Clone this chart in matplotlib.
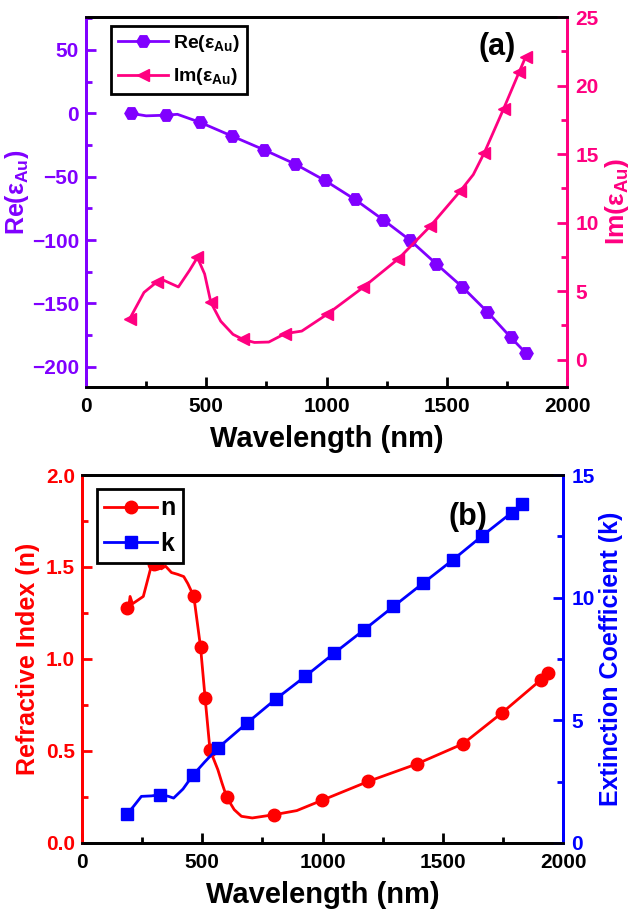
import matplotlib
matplotlib.use('Agg')
import matplotlib.pyplot as plt
from matplotlib.ticker import MultipleLocator

plt.rcParams['font.family'] = ['Liberation Sans', 'DejaVu Sans']
plt.rcParams['font.weight'] = 'bold'
plt.rcParams['mathtext.fontset'] = 'custom'
plt.rcParams['mathtext.rm'] = 'Liberation Sans:bold'
plt.rcParams['mathtext.it'] = 'Liberation Sans'
plt.rcParams['mathtext.bf'] = 'Liberation Sans:bold'

PURPLE = '#8000ff'
PINK = '#ff0080'
RED = '#ff0000'
BLUE = '#0000ff'

# panel (a): dielectric function of gold
wl_re = [186, 250, 331, 380, 475, 606, 741, 869, 993, 1118, 1235, 1348, 1457, 1564, 1669, 1765, 1830]
re_eps = [0, -2, -1.5, -0.8, -7.2, -17.9, -28.9, -40, -53, -68, -84, -100.3, -119, -137, -156.8, -176.7, -189.5]
re_marks = [0, 2, 4, 5, 6, 7, 8, 9, 10, 11, 12, 13, 14, 15, 16]

wl_im = [182, 241, 296, 315, 384, 430, 463, 493, 519, 560, 611, 653, 700, 760, 827, 897, 1001,
         1153, 1299, 1432, 1556, 1610, 1656, 1736, 1801, 1828]
im_eps = [2.99, 4.9, 5.69, 5.85, 5.3, 6.5, 7.45, 6.25, 4.17, 2.8, 1.84, 1.47, 1.25, 1.28, 1.89, 2.08, 3.29,
          5.28, 7.36, 9.75, 12.3, 13.5, 15.1, 18.3, 21.0, 22.1]
im_marks = [0, 2, 6, 8, 11, 14, 16, 17, 18, 19, 20, 22, 23, 24, 25]

# panel (b): optical constants
wl_n = [188, 196, 200, 210, 255, 289, 300, 310, 330, 347, 372, 398, 423, 440, 465, 493, 512, 523, 532,
        565, 582, 602, 633, 663, 708, 800, 893, 998, 1191, 1391, 1584, 1745, 1908, 1938]
n_val = [1.276, 1.30, 1.34, 1.30, 1.34, 1.51, 1.517, 1.52, 1.49, 1.505, 1.47, 1.46, 1.448, 1.41, 1.34,
         1.064, 0.787, 0.633, 0.507, 0.398, 0.326, 0.248, 0.181, 0.145, 0.136, 0.154, 0.176, 0.232, 0.335,
         0.429, 0.539, 0.706, 0.887, 0.923]
n_marks = [0, 6, 7, 14, 15, 16, 18, 21, 25, 27, 28, 29, 30, 31, 32, 33]

wl_k = [188, 215, 247, 290, 325, 360, 381, 420, 461, 510, 565, 686, 805, 928, 1049, 1173, 1295, 1418,
        1542, 1664, 1787, 1829]
k_val = [1.18, 1.5, 1.90, 1.92, 1.97, 1.90, 1.83, 2.2, 2.76, 3.3, 3.87, 4.89, 5.86, 6.79, 7.74, 8.69,
         9.64, 10.59, 11.54, 12.52, 13.47, 13.80]
k_marks = [0, 4, 8, 10, 11, 12, 13, 14, 15, 16, 17, 18, 19, 20, 21]

fig = plt.figure(figsize=(6.33, 9.14), dpi=100)
ax1 = fig.add_axes([0.1359, 0.5766, 0.760, 0.4048])
ax3 = fig.add_axes([0.1295, 0.0777, 0.760, 0.4026])


def style_axes(ax, axr, lc, rc):
    for a in (ax, axr):
        for s in a.spines.values():
            s.set_linewidth(2)
        a.spines['top'].set_color('black')
        a.spines['bottom'].set_color('black')
        a.spines['left'].set_color(lc)
        a.spines['right'].set_color(rc)
    ax.set_xlim(0, 2000)
    ax.xaxis.set_major_locator(MultipleLocator(500))
    ax.xaxis.set_minor_locator(MultipleLocator(250))
    ax.tick_params(axis='x', which='both', direction='in', top=False, colors='black',
                   labelsize=15, width=2, pad=7)
    ax.tick_params(axis='x', which='major', length=7)
    ax.tick_params(axis='x', which='minor', length=4)
    ax.tick_params(axis='y', which='both', direction='in', colors=lc, labelsize=15, width=2, pad=5)
    ax.tick_params(axis='y', which='major', length=7)
    ax.tick_params(axis='y', which='minor', length=4)
    axr.tick_params(axis='y', which='both', direction='in', colors=rc, labelsize=15, width=2, pad=6)
    axr.tick_params(axis='y', which='major', length=7)
    axr.tick_params(axis='y', which='minor', length=4)
    ax.set_xlabel('Wavelength (nm)', fontsize=21, fontweight='bold', labelpad=7)


# (a)
ax2 = ax1.twinx()
l1, = ax1.plot(wl_re, re_eps, color=PURPLE, lw=2, marker='H', ms=9.5, markevery=re_marks,
               label=r'Re($\varepsilon_{\mathbf{Au}}$)')
l2, = ax2.plot(wl_im, im_eps, color=PINK, lw=2, marker='<', ms=8.5, markevery=im_marks,
               label=r'Im($\varepsilon_{\mathbf{Au}}$)')
ax1.set_ylim(-216, 76)
ax2.set_ylim(-2, 25)
ax1.yaxis.set_major_locator(MultipleLocator(50))
ax1.yaxis.set_minor_locator(MultipleLocator(25))
ax2.yaxis.set_major_locator(MultipleLocator(5))
ax2.yaxis.set_minor_locator(MultipleLocator(2.5))
style_axes(ax1, ax2, PURPLE, PINK)
ax1.set_ylabel(r'Re($\varepsilon_{\mathbf{Au}}$)', color=PURPLE, fontsize=18, fontweight='bold')
ax1.yaxis.set_label_coords(-0.115, 0.525)
ax2.set_ylabel(r'Im($\varepsilon_{\mathbf{Au}}$)', color=PINK, fontsize=19, fontweight='bold', labelpad=3)
leg = ax1.legend(handles=[l1, l2], loc='upper left', bbox_to_anchor=(0.052, 0.976), borderaxespad=0,
                 fontsize=14, fancybox=False, edgecolor='black', handlelength=2.6, handletextpad=0.25,
                 borderpad=0.35, labelspacing=0.65, framealpha=1)
leg.get_frame().set_linewidth(2)
ax1.text(0.854, 0.919, '(a)', transform=ax1.transAxes, fontsize=22, fontweight='bold',
         ha='center', va='center')

# (b)
ax4 = ax3.twinx()
l3, = ax3.plot(wl_n, n_val, color=RED, lw=2, marker='o', ms=9, markevery=n_marks, label='n')
l4, = ax4.plot(wl_k, k_val, color=BLUE, lw=2, marker='s', ms=8, markevery=k_marks, label='k')
ax3.set_ylim(0, 2)
ax4.set_ylim(0, 15)
ax3.yaxis.set_major_locator(MultipleLocator(0.5))
ax3.yaxis.set_minor_locator(MultipleLocator(0.25))
ax4.yaxis.set_major_locator(MultipleLocator(5))
ax4.yaxis.set_minor_locator(MultipleLocator(2.5))
style_axes(ax3, ax4, RED, BLUE)
ax3.set_ylabel('Refractive Index (n)', color=RED, fontsize=18, fontweight='bold', labelpad=4)
ax4.set_ylabel('Extinction Coefficient (k)', color=BLUE, fontsize=18, fontweight='bold', labelpad=3)
leg2 = ax3.legend(handles=[l3, l4], loc='upper left', bbox_to_anchor=(0.031, 0.962), borderaxespad=0,
                  fontsize=18, fancybox=False, edgecolor='black', handlelength=2.1, handletextpad=0.15,
                  borderpad=0.3, labelspacing=0.45, framealpha=1)
leg2.get_frame().set_linewidth(2)
ax3.text(0.802, 0.886, '(b)', transform=ax3.transAxes, fontsize=22, fontweight='bold',
         ha='center', va='center')

fig.savefig('out.png', dpi=100)
